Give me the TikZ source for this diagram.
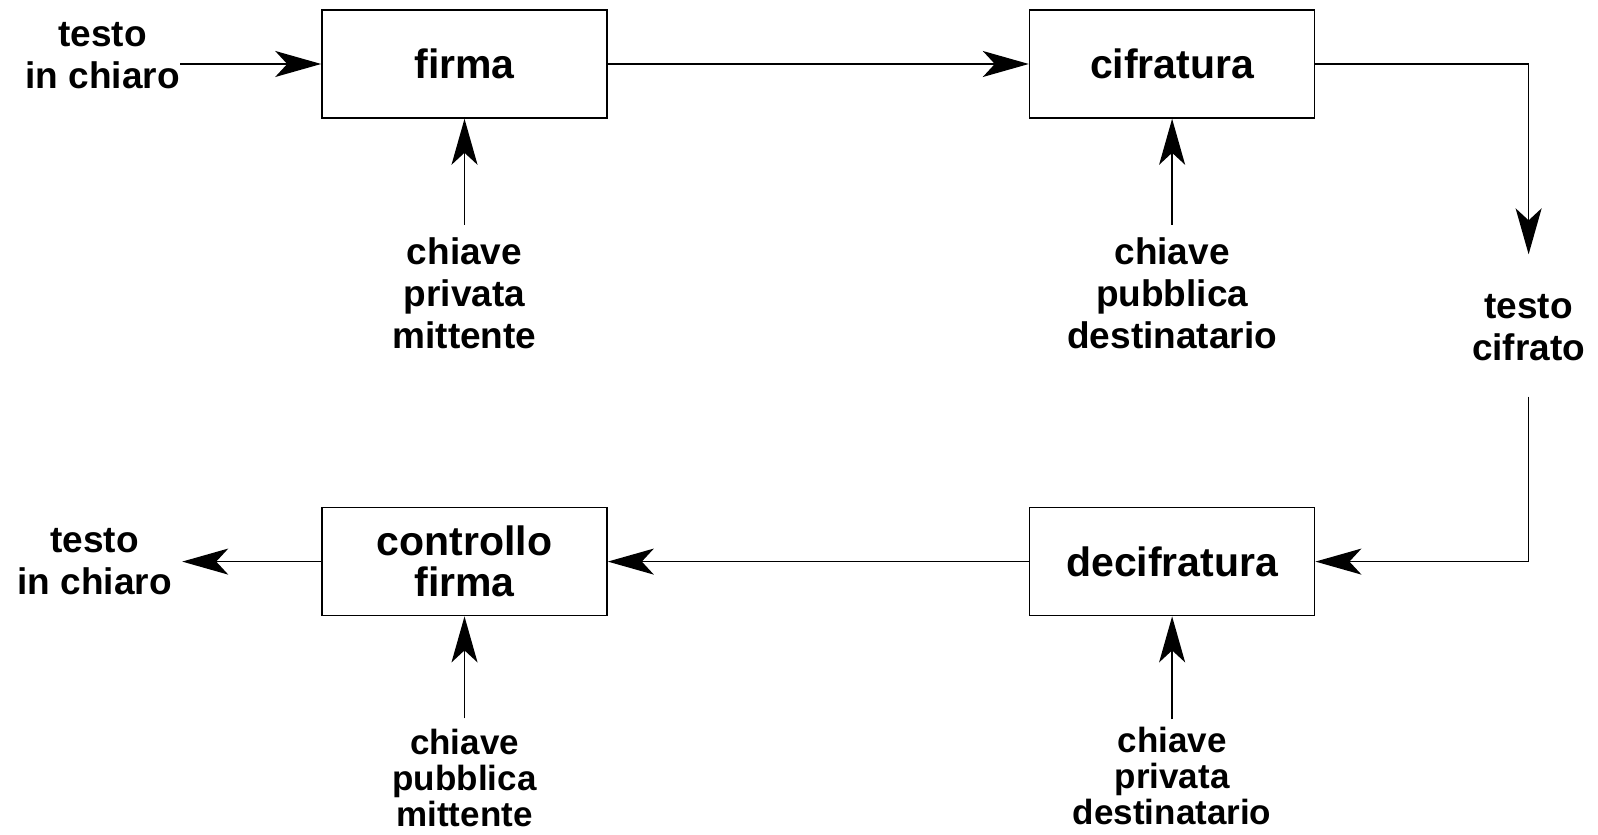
\documentclass[tikz,border=0pt]{standalone}
\usepackage{fontspec}
\setmainfont{Liberation Sans}
\usetikzlibrary{arrows.meta, positioning, math, calc}

\begin{document}
\begin{tikzpicture}
	\tikzmath{
		\x        = 232.25; %centre of the first box
		\y        = 385;    %centre of the first box
		\boxW     = 142.5;  %box width
		\boxH     = 54;     %box height
		\boxDistX = 210.5;  %horizontal distance between boxes
		\boxDistY = 194;    %vertical distance between boxes
		\keyDist  = 59;     %distance between box and key label
	}
	\tikzstyle{Box} = [
		minimum width=\boxW pt,
		minimum height=\boxH pt,
		text centered,
		align=center,
		draw=black,
		line width=0.8pt,
		font=\fontsize{20.5}{20.5}\selectfont\bfseries
	]
	\tikzstyle{Label}    = [align=center, inner sep=0pt, font=\fontsize{18.5}{21}\selectfont\bfseries]
	\tikzstyle{LowLabel} = [Label, font=\fontsize{17.5}{18}\selectfont\bfseries]
	\tikzstyle{Arrow}    = [-{Stealth[length=23pt, width=13pt, inset=6pt]}, line width=0.8pt]

	\useasboundingbox (0,0) rectangle (799pt,417pt);

	%%%%%%%%%%%%%%%%%%%%%%%%%%===---BOXES---===%%%%%%%%%%%%%%%%%%%%%%%%%%
	\node (firma)     [Box] at (\x pt,\y pt)                  {firma};
	\node (cifra)     [Box, right = \boxDistX pt of firma]     {cifratura};
	\node (controllo) [Box, below = \boxDistY pt of firma]     {controllo\\firma};
	\node (decifra)   [Box, right = \boxDistX pt of controllo] {decifratura};

	%%%%%%%%%%%%%%%%%%%%%%%%%%===---LABELS---===%%%%%%%%%%%%%%%%%%%%%%%%%%
	\node (chiaroIn)  [Label, left = 70.5pt of firma, yshift=4pt]  {testo\\in chiaro};
	\node (privMitt)  [Label, below = \keyDist pt of firma]         {chiave\\privata\\mittente};
	\node (pubDest)   [Label, below = \keyDist pt of cifra]         {chiave\\pubblica\\destinatario};
	\node (cifrato)   [Label] at ($(cifra) + (178.25pt,-132pt)$)    {testo\\cifrato};
	\node (chiaroOut) [Label, left = 74.5pt of controllo]           {testo\\in chiaro};
	\node (pubMitt)   [LowLabel, below = 56pt of controllo]         {chiave\\pubblica\\mittente};
	\node (privDest)  [LowLabel, below = 55pt of decifra]           {chiave\\privata\\destinatario};

	%%%%%%%%%%%%%%%%%%%%%%%%%%===---ARROWS---===%%%%%%%%%%%%%%%%%%%%%%%%%%
	\draw[Arrow] (chiaroIn.east |- firma.west) -- (firma.west);
	\draw[Arrow] (firma.east) -- (cifra.west);
	\draw[Arrow, shorten >=20pt] (cifra.east) -| (cifrato.north);
	\draw[Arrow, shorten <=17.5pt] (cifrato.south) |- (decifra.east);
	\draw[Arrow] (decifra.west) -- (controllo.east);
	\draw[Arrow, shorten >=5pt] (controllo.west) -- (chiaroOut.east |- controllo.west);

	\draw[Arrow, shorten <=6pt] (privMitt.north) -- (firma.south);
	\draw[Arrow, shorten <=6pt] (pubDest.north) -- (cifra.south);
	\draw[Arrow, shorten <=5pt] (pubMitt.north) -- (controllo.south);
	\draw[Arrow, shorten <=3.5pt] (privDest.north) -- (decifra.south);
\end{tikzpicture}
\end{document}
